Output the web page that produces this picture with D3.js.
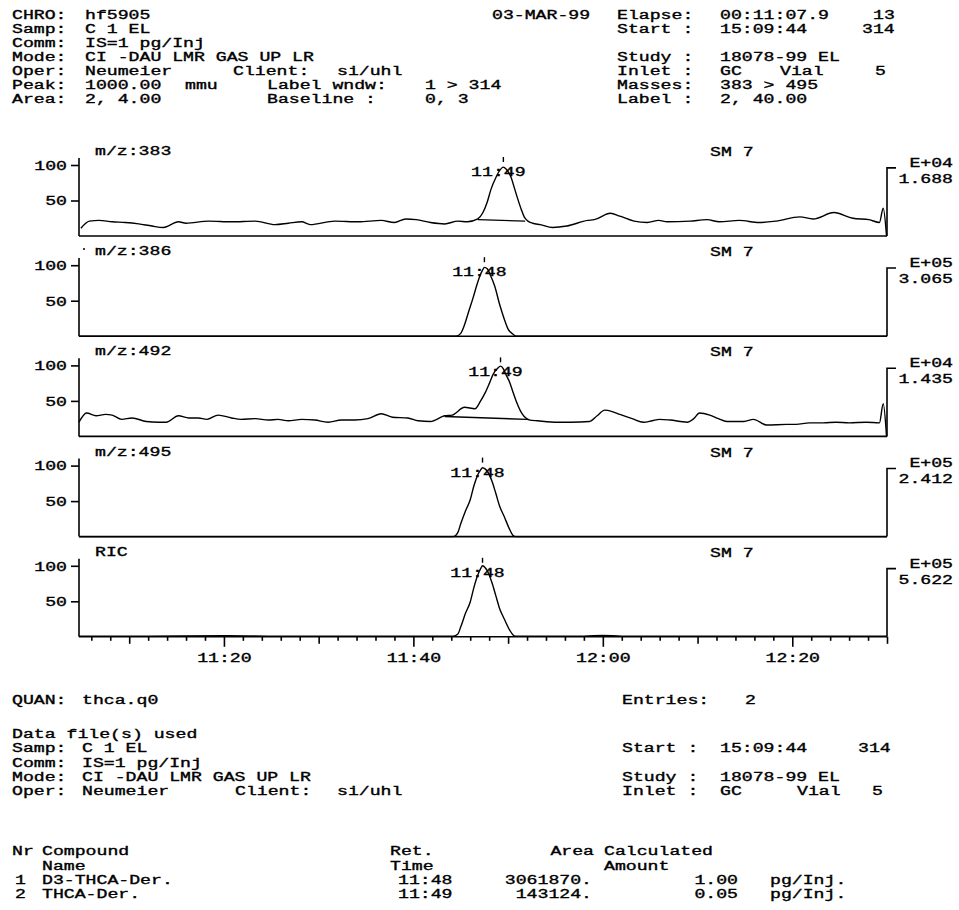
<!DOCTYPE html>
<html>
<head>
<meta charset="utf-8">
<script src="https://cdn.jsdelivr.net/npm/d3@7"></script>
<style>
body { margin: 0; background: #fff; }
text { font-family: "Liberation Mono", "DejaVu Sans Mono", monospace; font-size: 12.5px; fill: #000; stroke: #000; stroke-width: 0.35px; }
.trace { fill: none; stroke: #000; stroke-width: 1.4px; }
.ax { stroke: #000; stroke-width: 1.6px; fill: none; }
</style>
</head>
<body>
<svg id="chart" width="959" height="910"></svg>
<script>
// ---- data ----
const panelNames = ["m/z:383", "m/z:386", "m/z:492", "m/z:495", "RIC"];
const smoothLabels = ["SM 7", "SM 7", "SM 7", "SM 7", "SM 7"];
const scaleExp = ["E+04", "E+05", "E+04", "E+05", "E+05"];
const scaleMant = ["1.688", "3.065", "1.435", "2.412", "5.622"];
const peakLabels = ["11:49", "11:48", "11:49", "11:48", "11:48"];
const peakTimes = [709.5, 707.5, 709.2, 707.3, 707.3];   // seconds
const timeDomain = [664.7, 750.0];
const yTickValues = [50, 100];
const xLabelSecs = [680, 700, 720, 740];

// [time (s), relative intensity %]
const trace383 = [[664.9,11],[665.8,21],[666.8,22],[668.2,20],[669.6,19],[671.0,17],[672.4,14],[673.6,12],[675.2,20],[676.0,18],[678.4,21],[680.8,20],[683.3,21],[685.4,16],[686.8,18],[688.2,20],[689.1,16],[691.7,21],[694.2,20],[696.6,22],[698.0,19],[699.2,24],[700.3,23],[701.8,19],[703.3,17],[704.7,21],[705.7,20],[706.8,24],[707.3,32],[707.8,48],[708.2,66],[708.7,82],[709.1,92],[709.5,97],[709.8,94],[710.3,83],[710.7,66],[711.0,53],[711.4,37],[711.7,27],[712.1,21],[712.6,18],[713.4,16],[714.7,12],[716.2,14],[718.4,22],[719.1,23],[720.8,32],[721.8,28],[723.3,21],[724.7,19],[725.9,22],[726.8,20],[729.2,21],[731.0,23],[732.3,20],[734.4,22],[736.5,19],[738.3,21],[740.8,27],[742.2,24],[744.4,33],[746.4,25],[748.1,23],[749.2,19],[749.6,39],[749.95,0]];
const trace386 = [[664.7,0],[690,0],[704.5,0],[705.0,4],[705.4,16],[705.8,33],[706.3,54],[706.7,72],[707.0,84],[707.3,93],[707.5,97],[707.8,95],[708.1,87],[708.6,70],[709.1,45],[709.6,24],[710.0,10],[710.5,3],[710.9,0],[750,0]];
const trace492 = [[664.7,20],[665.5,33],[666.5,29],[667.5,31],[668.2,30],[669.2,24],[670.3,26],[671.8,21],[673.1,20],[673.9,20],[675.2,29],[676.3,26],[677.3,26],[678.2,24],[679.4,30],[680.8,26],[681.8,24],[683.3,25],[684.7,23],[685.7,24],[686.8,22],[688.2,24],[689.6,23],[691.0,20],[692.4,23],[693.8,23],[695.2,25],[696.6,32],[697.8,27],[699.4,26],[700.5,22],[701.8,21],[703.3,29],[704.1,30],[705.4,41],[706.5,39],[707.1,50],[707.6,62],[708.0,74],[708.4,87],[708.9,96],[709.2,99],[709.5,95],[709.7,89],[710.2,75],[710.5,63],[710.9,48],[711.3,36],[711.7,28],[712.3,23],[713.1,22],[715.2,20],[716.6,20],[718.6,21],[719.4,29],[720.2,37],[721.0,35],[721.8,31],[723.1,25],[724.3,20],[725.2,22],[726.0,24],[727.1,23],[728.9,20],[729.6,25],[730.2,33],[731.3,30],[732.2,25],[733.1,21],[734.9,21],[735.9,24],[737.3,16],[739.4,17],[740.4,17],[741.8,19],[743.3,19],[744.6,20],[746.0,19],[747.8,20],[749.2,19],[749.6,46],[749.95,0]];
const trace495 = [[664.7,0],[690,0],[704.2,0],[704.7,6],[705.0,18],[705.5,36],[706.0,52],[706.4,72],[706.8,87],[707.1,94],[707.3,97],[707.6,95],[707.8,92],[708.3,78],[708.7,61],[709.1,43],[709.6,28],[710.1,12],[710.5,2],[710.8,0],[750,0]];
const traceRIC = [[664.7,1],[672,1],[680,1.5],[685,1],[700,1],[704.2,1],[704.7,4],[705.0,14],[705.5,33],[706.0,49],[706.4,70],[706.8,87],[707.1,96],[707.3,100],[707.6,97],[707.8,93],[708.3,76],[708.7,58],[709.1,40],[709.6,25],[710.1,11],[710.5,3],[710.8,1],[718,1],[720,1.8],[722,1],[745,1],[750,1]];
const traces = [trace383, trace386, trace492, trace495, traceRIC];

// integration baselines under the labelled peaks
const intBase383 = [[706.8,23],[711.8,21]];
const intBase492 = [[703.3,28],[712.0,24]];
const intBases = [intBase383, null, intBase492, null, null];

// quantitation table
const compoundNr = ["1", "2"];
const compoundNames = ["D3-THCA-Der.", "THCA-Der."];
const retTimes = ["11:48", "11:49"];
const areas = ["3061870.", "143124."];
const amounts = ["1.00", "0.05"];
const units = ["pg/Inj.", "pg/Inj."];

// ---- drawing ----
const CH = 10.9; // printer character pitch in px
const svg = d3.select("#chart");

function txt(x, y, s, anchor) {
    svg.append("text")
        .attr("x", x).attr("y", y)
        .attr("text-anchor", anchor || "start")
        .attr("textLength", s.length * CH)
        .attr("lengthAdjust", "spacingAndGlyphs")
        .text(s);
}

// header block
const rowY = i => 19 + i * 14;
txt(12, rowY(0), "CHRO:");  txt(85, rowY(0), "hf5905");
txt(12, rowY(1), "Samp:");  txt(85, rowY(1), "C 1 EL");
txt(12, rowY(2), "Comm:");  txt(85, rowY(2), "IS=1 pg/Inj");
txt(12, rowY(3), "Mode:");  txt(85, rowY(3), "CI -DAU LMR GAS UP LR");
txt(12, rowY(4), "Oper:");  txt(85, rowY(4), "Neumeier");
txt(233, rowY(4), "Client:"); txt(337, rowY(4), "si/uhl");
txt(12, rowY(5), "Peak:");  txt(85, rowY(5), "1000.00"); txt(185, rowY(5), "mmu");
txt(267, rowY(5), "Label wndw:"); txt(425, rowY(5), "1 > 314");
txt(12, rowY(6), "Area:");  txt(85, rowY(6), "2, 4.00");
txt(267, rowY(6), "Baseline :"); txt(425, rowY(6), "0, 3");

txt(492, rowY(0), "03-MAR-99");
txt(617, rowY(0), "Elapse:"); txt(720, rowY(0), "00:11:07.9"); txt(873, rowY(0), "13");
txt(617, rowY(1), "Start :"); txt(720, rowY(1), "15:09:44");   txt(862, rowY(1), "314");
txt(617, rowY(3), "Study :"); txt(720, rowY(3), "18078-99 EL");
txt(617, rowY(4), "Inlet :"); txt(720, rowY(4), "GC"); txt(780, rowY(4), "Vial"); txt(875, rowY(4), "5");
txt(617, rowY(5), "Masses:"); txt(720, rowY(5), "383 > 495");
txt(617, rowY(6), "Label :"); txt(720, rowY(6), "2, 40.00");

// chromatogram panels
const plotLeft = 79, plotRight = 887;
const x = d3.scaleLinear().domain(timeDomain).range([plotLeft, plotRight]);
const fmt = d => Math.floor(d / 60) + ":" + String(d % 60).padStart(2, "0");

function stretch(sel) {
    sel.attr("font-size", null).attr("font-family", null)
        .attr("lengthAdjust", "spacingAndGlyphs")
        .attr("textLength", function() { return this.textContent.length * CH || null; });
}

panelNames.forEach((name, i) => {
    const yb = 236 + i * 100.2;
    const y = d3.scaleLinear().domain([0, 100]).range([yb, yb - 71]);
    const g = svg.append("g");

    // left axis
    g.append("line").attr("class", "ax")
        .attr("x1", plotLeft).attr("x2", plotLeft)
        .attr("y1", y(0)).attr("y2", y(110));
    const ya = g.append("g").attr("transform", "translate(" + plotLeft + ",0)")
        .call(d3.axisLeft(y).tickValues(yTickValues).tickSize(8).tickPadding(4));
    ya.select(".domain").remove();
    ya.selectAll("line").attr("stroke", "#000").attr("stroke-width", 1.6);
    ya.selectAll("text").call(stretch).attr("dy", "0.35em");

    // bottom line
    g.append("line").attr("class", "ax")
        .attr("x1", plotLeft).attr("x2", plotRight)
        .attr("y1", yb).attr("y2", yb);

    // right scale marker
    g.append("path").attr("class", "ax")
        .attr("d", "M" + plotRight + "," + yb + "V" + y(96) + "H" + (plotRight + 9));
    txt(953, y(96) - 1, scaleExp[i], "end");
    txt(953, y(96) + 15, scaleMant[i], "end");

    // trace
    const line = d3.line().x(d => x(d[0])).y(d => y(d[1])).curve(d3.curveMonotoneX);
    g.append("path").attr("class", "trace").attr("d", line(traces[i]));
    if (intBases[i]) {
        g.append("path").attr("class", "trace").attr("stroke-width", 1.1)
            .attr("d", d3.line().x(d => x(d[0])).y(d => y(d[1]))(intBases[i]));
    }

    // labels
    txt(95, yb - 81, name);
    txt(710, yb - 80, smoothLabels[i]);
    const px = x(peakTimes[i]);
    txt(px - 5, yb - 60, peakLabels[i], "middle");
    g.append("line").attr("stroke", "#000").attr("stroke-width", 1.4)
        .attr("x1", px).attr("x2", px).attr("y1", yb - 79).attr("y2", yb - 74);

    // time axis on the last panel
    if (i === panelNames.length - 1) {
        const xa = g.append("g").attr("transform", "translate(0," + yb + ")")
            .call(d3.axisBottom(x).tickValues(d3.range(666, 751, 2)).tickSize(4)
                .tickFormat(d => xLabelSecs.includes(d) ? fmt(d) : ""));
        xa.select(".domain").remove();
        xa.selectAll("line").attr("stroke", "#000").attr("stroke-width", 1.6)
            .attr("y2", d => d % 20 === 0 ? 10 : (d % 10 === 0 ? 7 : 4));
        xa.selectAll("text").call(stretch).attr("y", 25).attr("dy", 0);
    }
});

// scanner speck before the second trace label
svg.append("circle").attr("cx", 84).attr("cy", 249).attr("r", 1).attr("fill", "#000");

// quantitation block
txt(12, 704, "QUAN:"); txt(82, 704, "thca.q0");
txt(622, 704, "Entries:"); txt(745, 704, "2");
txt(12, 738, "Data file(s) used");
txt(12, 752, "Samp:"); txt(82, 752, "C 1 EL");
txt(12, 767, "Comm:"); txt(82, 767, "IS=1 pg/Inj");
txt(12, 781, "Mode:"); txt(82, 781, "CI -DAU LMR GAS UP LR");
txt(12, 795, "Oper:"); txt(82, 795, "Neumeier");
txt(235, 795, "Client:"); txt(337, 795, "si/uhl");
txt(622, 752, "Start :"); txt(720, 752, "15:09:44"); txt(858, 752, "314");
txt(622, 781, "Study :"); txt(720, 781, "18078-99 EL");
txt(622, 795, "Inlet :"); txt(720, 795, "GC"); txt(797, 795, "Vial"); txt(872, 795, "5");

txt(12, 855, "Nr"); txt(42, 855, "Compound");
txt(42, 870, "Name");
txt(390, 855, "Ret."); txt(390, 870, "Time");
txt(594, 855, "Area", "end");
txt(604, 855, "Calculated"); txt(604, 870, "Amount");
compoundNames.forEach((c, k) => {
    const yy = 884 + k * 14;
    txt(15, yy, compoundNr[k]);
    txt(42, yy, c);
    txt(398, yy, retTimes[k]);
    txt(592, yy, areas[k], "end");
    txt(738, yy, amounts[k], "end");
    txt(770, yy, units[k]);
});
</script>
</body>
</html>
